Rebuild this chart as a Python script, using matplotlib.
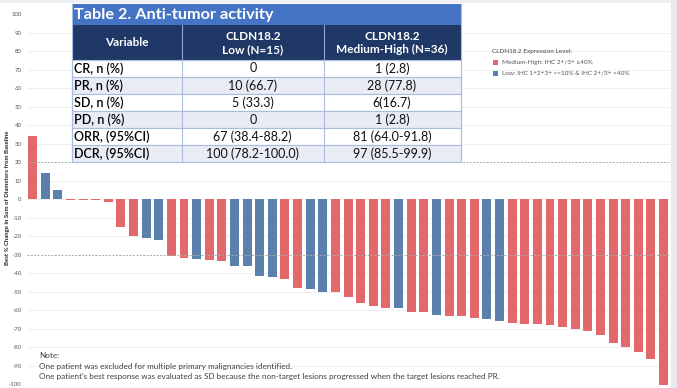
import matplotlib
matplotlib.use("Agg")
import matplotlib.pyplot as plt
from matplotlib.patches import Rectangle

# ---------------- data ----------------
pct_change = [34, 14, 5, -0.3, -0.4, -0.6, -1.6, -15, -19.7, -21, -22, -30.5, -31.8,
              -32.2, -32.6, -33.5, -35.8, -35.8, -41.4, -42.1, -43, -47.8, -48.6,
              -50.3, -50.3, -52.9, -56.1, -57.7, -58.6, -58.6, -60.8, -61, -62.4,
              -62.9, -63.1, -64.2, -64.7, -65.8, -66.8, -67.2, -67.2, -67.9, -68.8,
              -70.1, -71.2, -73.5, -77.4, -79.9, -82.4, -86.2, -100]
expr_level = ["MH", "L", "L", "MH", "MH", "MH", "MH", "MH", "MH", "L", "L", "MH", "MH",
              "L", "MH", "MH", "L", "L", "L", "L", "MH", "MH", "L",
              "L", "MH", "MH", "MH", "MH", "MH", "L", "MH", "MH", "L",
              "MH", "MH", "MH", "L", "L", "MH", "MH", "MH", "MH", "MH",
              "MH", "MH", "MH", "MH", "MH", "MH", "MH", "MH"]
y_ticks = list(range(-100, 101, 10))
ref_lines = [20, -30]

legend_title = "CLDN18.2 Expression Level:"
legend_labels = {"MH": "Medium-High: IHC 2+/3+ \u226540%",
                 "L": "Low: IHC 1+2+3+ >=10% & IHC 2+/3+ <40%"}

table_title = "Table 2. Anti-tumor activity"
col_headers = ["Variable", "CLDN18.2\nLow (N=15)", "CLDN18.2\nMedium-High (N=36)"]
row_labels = ["CR, n (%)", "PR, n (%)", "SD, n (%)", "PD, n (%)", "ORR, (95%CI)", "DCR, (95%CI)"]
low_vals = ["0", "10 (66.7)", "5 (33.3)", "0", "67 (38.4-88.2)", "100 (78.2-100.0)"]
mh_vals = ["1 (2.8)", "28 (77.8)", "6(16.7)", "1 (2.8)", "81 (64.0-91.8)", "97 (85.5-99.9)"]

notes = ["Note:",
         "One patient was excluded for multiple primary malignancies identified.",
         "One patient's best response was evaluated as SD because the non-target lesions progressed when the target lesions reached PR."]

colors = {"MH": "#E2686C", "L": "#5B80AC"}

plt.rcParams['font.family'] = ['Lato', 'DejaVu Sans']

W, H = 677, 388
fig = plt.figure(figsize=(W / 100, H / 100), dpi=100)
fig.patch.set_facecolor("white")

# background frame strips
bg = fig.add_axes([0, 0, 1, 1], zorder=-10)
bg.set_xlim(0, W); bg.set_ylim(H, 0); bg.axis("off")
bg.add_patch(Rectangle((0, 0), W, 3, color="#EEEEF4", lw=0))
bg.add_patch(Rectangle((671, 0), 6, H, color="#E9E9F0", lw=0))

# ---------------- main chart ----------------
ax = fig.add_axes([27 / W, 3.5 / H, 643 / W, 370.5 / H])
ax.set_facecolor("none")
x = list(range(len(pct_change)))
ax.bar(x, pct_change, width=0.71, color=[colors[g] for g in expr_level], zorder=3)
ax.set_xlim(-0.44, len(pct_change) - 0.49)
ax.set_ylim(-100, 100)
ax.set_yticks(y_ticks)
ax.set_yticklabels([str(t) for t in y_ticks], fontsize=4.3, color="#555555")
ax.tick_params(axis="y", length=0, pad=4)
ax.set_xticks([])
for s in ax.spines.values():
    s.set_visible(False)
for t in y_ticks:
    if t not in (100, -100) and t not in ref_lines:
        ax.axhline(t, color="#EDEDED", lw=0.6, zorder=1)
for r in ref_lines:
    ax.axhline(r, color="#A8A8A8", lw=0.7, ls=(0, (2, 1.5)), zorder=4)

fig.text(8 / W, 0.49, "Best % Change in Sum of Diameters from Baseline", rotation=90,
         fontsize=4.3, fontweight="bold", color="#222222", ha="center", va="center")

# ---------------- overlay (table, legend, notes) ----------------
ov = fig.add_axes([0, 0, 1, 1], zorder=5)
ov.set_xlim(0, W); ov.set_ylim(H, 0); ov.axis("off"); ov.patch.set_alpha(0)

col_edges = [71.5, 182, 323.5, 460.5]
title_top, title_bot, head_bot, row_h = 4, 25, 59.5, 17

ov.add_patch(Rectangle((col_edges[0], title_top), col_edges[-1] - col_edges[0],
                       title_bot - title_top, color="#4674C4", lw=0))
ov.text(col_edges[0] + 3, (title_top + title_bot) / 2 + 0.5, table_title, color="white",
        fontsize=11.7, fontweight="bold", ha="left", va="center")
ov.add_patch(Rectangle((col_edges[0], title_bot), col_edges[-1] - col_edges[0],
                       head_bot - title_bot, color="#1F3865", lw=0))
for i, h in enumerate(col_headers):
    cx = (col_edges[i] + col_edges[i + 1]) / 2
    ov.text(cx, (title_bot + head_bot) / 2 + 0.5, h, color="white", fontsize=8.5,
            fontweight="bold", ha="center", va="center", linespacing=1.25)
for i in (1, 2):
    ov.plot([col_edges[i]] * 2, [title_bot, head_bot], color="#8FA6CF", lw=0.8)

for r, (lab, lv, mv) in enumerate(zip(row_labels, low_vals, mh_vals)):
    top = head_bot + r * row_h
    face = "white" if r % 2 == 0 else "#E9EBF5"
    ov.add_patch(Rectangle((col_edges[0], top), col_edges[-1] - col_edges[0], row_h,
                           facecolor=face, edgecolor="#A9BCDD", lw=0.8))
    cy = top + row_h / 2 + 0.5
    ov.text(col_edges[0] + 3, cy, lab, fontsize=9, color="black", ha="left", va="center",
            fontweight="semibold")
    ov.text((col_edges[1] + col_edges[2]) / 2, cy, lv, fontsize=9, color="#111111",
            ha="center", va="center")
    ov.text((col_edges[2] + col_edges[3]) / 2, cy, mv, fontsize=9, color="#111111",
            ha="center", va="center")
for i in (1, 2):
    ov.plot([col_edges[i]] * 2, [head_bot, head_bot + len(row_labels) * row_h],
            color="#A9BCDD", lw=0.8)
ov.plot([col_edges[0]] * 2, [title_top, head_bot + len(row_labels) * row_h],
        color="#A9BCDD", lw=0.8)
ov.plot([col_edges[-1]] * 2, [title_top, head_bot + len(row_labels) * row_h],
        color="#A9BCDD", lw=0.8)

# legend
ov.text(492, 52, legend_title, fontsize=4.6, color="#444444", ha="left", va="center")
for k, key in enumerate(["MH", "L"]):
    yy = 62.5 + k * 10.5
    ov.add_patch(Rectangle((493, yy - 2.5), 5, 5, color=colors[key], lw=0))
    ov.text(502, yy, legend_labels[key], fontsize=4.6, color="#555555", ha="left", va="center")

# notes
for k, line in enumerate(notes):
    ov.text(39, 355 + k * 11, line, fontsize=5.85, color="#404040", ha="left", va="center")

fig.savefig("out.png", dpi=100)
